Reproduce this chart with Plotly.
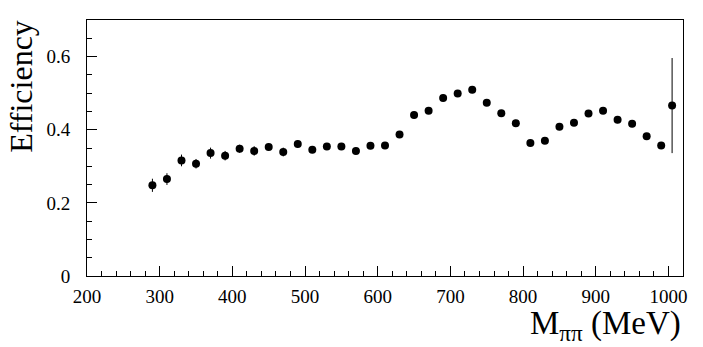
import plotly.graph_objects as go

mass = [290, 310, 330, 350, 370, 390, 410, 430, 450, 470, 490, 510, 530, 550, 570,
        590, 610, 630, 650, 670, 690, 710, 730, 750, 770, 790, 810, 830, 850, 870,
        890, 910, 930, 950, 970, 990, 1005]
eff = [0.248, 0.265, 0.316, 0.307, 0.336, 0.329, 0.348, 0.342, 0.353, 0.339, 0.361,
       0.345, 0.354, 0.354, 0.342, 0.356, 0.357, 0.387, 0.440, 0.452, 0.487, 0.499,
       0.509, 0.474, 0.445, 0.418, 0.364, 0.370, 0.408, 0.419, 0.444, 0.452, 0.427,
       0.416, 0.382, 0.357, 0.466]
err = [0.018, 0.016, 0.016, 0.013, 0.015, 0.013, 0.011, 0.013, 0.009, 0.012, 0.010,
       0.009, 0.009, 0.009, 0.009, 0.009, 0.009, 0.009, 0.009, 0.009, 0.009, 0.009,
       0.009, 0.009, 0.009, 0.009, 0.009, 0.009, 0.009, 0.009, 0.009, 0.009, 0.009,
       0.009, 0.009, 0.009, 0.130]

x_ticks = [200, 300, 400, 500, 600, 700, 800, 900, 1000]
y_ticks = [0, 0.2, 0.4, 0.6]
y_tick_text = ["0", "0.2", "0.4", "0.6"]

font = "Liberation Serif"

fig = go.Figure()
fig.add_trace(go.Scatter(
    x=mass, y=eff, mode="markers",
    marker=dict(color="black", size=8, symbol="circle"),
    error_y=dict(type="data", array=err, visible=True, color="black",
                 thickness=1, width=0),
    showlegend=False,
))

# page body has an 8px margin; figure sized so it fits the 703x347 window
fig.update_layout(
    width=695, height=339,
    margin=dict(l=79, r=20, t=12, b=71),
    paper_bgcolor="white", plot_bgcolor="white",
    font=dict(family=font, color="black", size=19),
    xaxis=dict(
        range=[200, 1020], tickvals=x_ticks, ticktext=[str(v) for v in x_ticks],
        ticks="inside", ticklen=10, tickwidth=1, tickcolor="black",
        showline=True, linecolor="black", linewidth=1, mirror=True,
        showgrid=False, zeroline=False, ticklabelstandoff=3,
        minor=dict(ticks="inside", ticklen=5, dtick=20, tick0=200,
                   tickcolor="black", showgrid=False),
        tickfont=dict(family=font, size=19, color="black"),
    ),
    yaxis=dict(
        range=[0, 0.7], tickvals=y_ticks, ticktext=y_tick_text,
        ticks="inside", ticklen=10, tickwidth=1, tickcolor="black",
        showline=True, linecolor="black", linewidth=1, mirror=True,
        showgrid=False, zeroline=False, ticklabelstandoff=12,
        minor=dict(ticks="inside", ticklen=5, dtick=0.05, tick0=0,
                   tickcolor="black", showgrid=False),
        tickfont=dict(family=font, size=19, color="black"),
    ),
    annotations=[
        dict(text="Efficiency", textangle=-90, xref="paper", yref="paper",
             x=-0.112, y=0.74, xanchor="center", yanchor="middle",
             showarrow=False, font=dict(family=font, size=32, color="black")),
        dict(text="M<sub>ππ</sub> (MeV)", xref="paper", yref="paper",
             x=1.0, y=-0.195, xanchor="right", yanchor="middle",
             showarrow=False, font=dict(family=font, size=33, color="black")),
    ],
)

fig.write_html("out.html")
